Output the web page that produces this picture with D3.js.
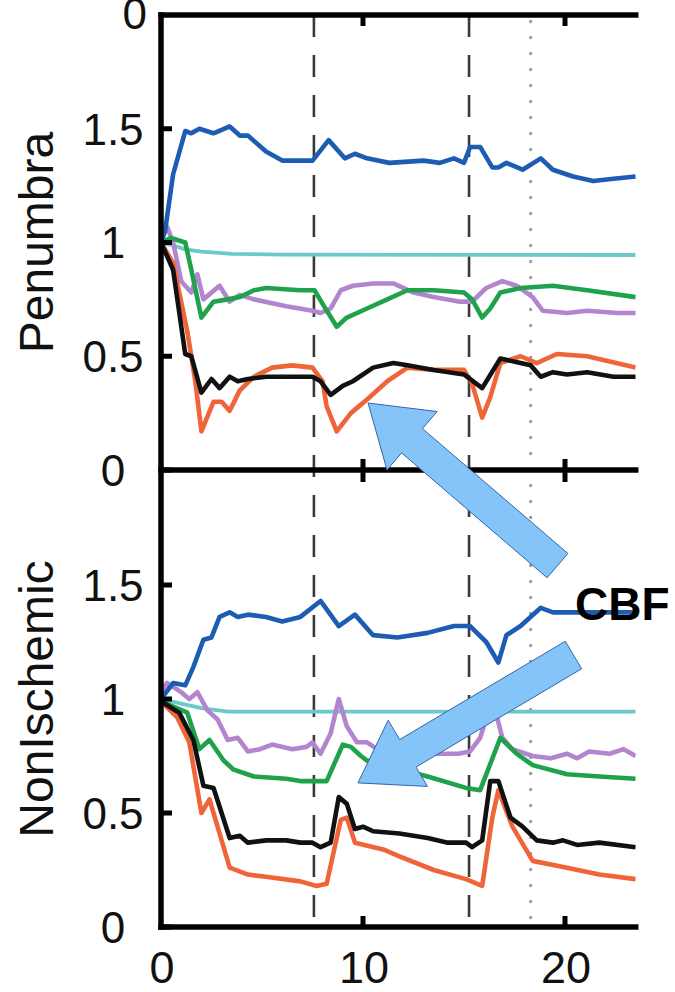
<!DOCTYPE html>
<html>
<head>
<meta charset="utf-8">
<script src="https://cdn.jsdelivr.net/npm/d3@7"></script>
<style>
  html,body{margin:0;padding:0;background:#fff;}
  svg{display:block;}
  text{font-family:"Liberation Sans",Arial,Helvetica,sans-serif;fill:#111;}
</style>
</head>
<body>
<svg id="chart" width="675" height="992"></svg>
<script>
// time axis (min) and tick values
var xTicks=[0,10,20];
var yTicks=[0,0.5,1,1.5];
var yTickLabels=["0","0.5","1","1.5"];
var eventLines=[7.57,15.25];   // dashed
var markerLine=[18.3];          // dotted

// Penumbra panel series: [time, relative value]
var penCyan=[[0,1.0],[0.5,0.99],[1.2,0.97],[2.0,0.96],[3.5,0.95],[6,0.947],[23.5,0.945]];
var penPurple=[[0,1.02],[0.3,1.07],[0.6,1.0],[1.0,0.83],[1.5,0.78],[1.8,0.86],[2.1,0.75],[2.9,0.81],[3.4,0.74],[3.9,0.77],[4.6,0.75],[6.2,0.72],[7.5,0.70],[7.9,0.69],[8.4,0.71],[8.9,0.79],[9.5,0.81],[10.5,0.82],[11.5,0.82],[12.5,0.78],[13.5,0.76],[14.8,0.74],[15.4,0.74],[16.1,0.80],[16.9,0.83],[17.6,0.81],[18.4,0.76],[18.9,0.70],[20.1,0.69],[21.1,0.70],[22.6,0.69],[23.5,0.69]];
var penGreen=[[0,1.0],[0.5,1.02],[1.2,1.0],[1.5,0.88],[2.0,0.67],[2.6,0.74],[3.3,0.75],[3.9,0.76],[4.6,0.79],[5.2,0.80],[6.9,0.79],[7.6,0.79],[8.0,0.73],[8.7,0.63],[9.2,0.67],[10.2,0.71],[11.2,0.75],[12.2,0.79],[13.5,0.79],[15.0,0.78],[15.4,0.75],[15.9,0.67],[16.3,0.71],[16.8,0.78],[17.8,0.80],[19.4,0.81],[21.1,0.79],[23.5,0.76]];
var penOrange=[[0,1.0],[0.6,0.91],[1.3,0.61],[1.7,0.39],[2.0,0.17],[2.6,0.30],[3.0,0.30],[3.4,0.26],[3.9,0.35],[4.6,0.41],[5.5,0.45],[6.5,0.46],[7.5,0.45],[8.0,0.39],[8.2,0.28],[8.7,0.17],[9.4,0.25],[10.2,0.31],[11.2,0.39],[12.2,0.45],[13.5,0.44],[15.0,0.44],[15.4,0.38],[15.9,0.23],[16.3,0.32],[16.8,0.47],[17.8,0.50],[18.6,0.47],[19.6,0.51],[21.1,0.50],[23.5,0.45]];
var penBlack=[[0,1.0],[0.6,0.88],[1.2,0.51],[1.5,0.50],[2.0,0.34],[2.5,0.40],[2.9,0.36],[3.4,0.41],[3.8,0.39],[4.3,0.40],[5.2,0.41],[7.5,0.41],[7.9,0.39],[8.4,0.33],[9.0,0.37],[9.5,0.39],[10.5,0.45],[11.5,0.47],[12.2,0.46],[13.5,0.44],[15.0,0.42],[15.9,0.36],[16.8,0.49],[17.8,0.47],[18.3,0.46],[18.8,0.41],[19.4,0.43],[20.1,0.42],[21.1,0.43],[22.4,0.41],[23.5,0.41]];
var penBlue=[[0,1.0],[0.2,1.05],[0.6,1.3],[1.2,1.49],[1.5,1.48],[1.9,1.50],[2.6,1.48],[3.4,1.51],[3.9,1.47],[4.3,1.47],[5.2,1.40],[6.0,1.36],[6.9,1.36],[7.5,1.36],[8.3,1.45],[9.1,1.37],[9.6,1.39],[10.2,1.37],[11.3,1.35],[13.0,1.36],[13.8,1.35],[14.5,1.37],[15.0,1.35],[15.3,1.42],[15.8,1.42],[16.4,1.33],[16.7,1.33],[17.1,1.35],[17.9,1.32],[18.8,1.37],[19.4,1.32],[20.4,1.29],[21.4,1.27],[22.4,1.28],[23.5,1.29]];

// NonIschemic panel series
var nonCyan=[[0,1.0],[1.0,0.98],[2.0,0.96],[3.3,0.945],[23.5,0.945]];
var nonPurple=[[0,1.03],[0.3,1.07],[1.0,1.03],[1.4,1.0],[1.8,1.03],[2.3,0.95],[2.8,0.91],[3.3,0.82],[3.8,0.83],[4.3,0.77],[4.9,0.78],[5.5,0.80],[6.5,0.78],[7.2,0.79],[7.5,0.81],[7.9,0.76],[8.4,0.85],[8.8,1.0],[9.2,0.88],[9.7,0.81],[10.2,0.81],[10.7,0.78],[12.0,0.77],[13.5,0.76],[14.7,0.76],[15.3,0.77],[15.8,0.83],[16.4,1.0],[16.9,0.83],[17.4,0.78],[18.4,0.75],[19.3,0.74],[20.1,0.76],[20.6,0.74],[21.2,0.77],[22.2,0.76],[22.9,0.78],[23.5,0.75]];
var nonGreen=[[0,0.99],[1.3,0.94],[1.9,0.78],[2.4,0.82],[3.1,0.73],[3.6,0.69],[4.6,0.66],[6.2,0.65],[6.9,0.64],[8.2,0.64],[9.0,0.80],[9.4,0.79],[9.9,0.75],[10.2,0.73],[11.5,0.70],[13.2,0.66],[15.1,0.61],[15.8,0.60],[16.8,0.83],[17.6,0.76],[18.4,0.71],[20.1,0.67],[21.7,0.66],[23.5,0.65]];
var nonOrange=[[0,0.99],[0.8,0.92],[1.4,0.81],[2.0,0.50],[2.4,0.56],[2.8,0.44],[3.4,0.26],[4.3,0.23],[5.2,0.22],[6.9,0.20],[7.7,0.18],[8.2,0.19],[8.9,0.47],[9.2,0.48],[9.6,0.37],[11.0,0.34],[11.8,0.31],[13.5,0.25],[15.1,0.21],[15.9,0.18],[16.4,0.48],[16.7,0.60],[17.4,0.44],[18.4,0.29],[20.1,0.26],[21.7,0.23],[23.5,0.21]];
var nonBlack=[[0,0.99],[0.9,0.94],[1.6,0.82],[2.1,0.62],[2.6,0.61],[3.4,0.39],[3.9,0.40],[4.3,0.37],[5.2,0.38],[6.2,0.38],[6.9,0.37],[7.5,0.37],[7.9,0.35],[8.4,0.37],[8.8,0.57],[9.2,0.54],[9.6,0.43],[10.0,0.44],[10.5,0.42],[11.8,0.41],[13.2,0.39],[14.2,0.37],[15.1,0.37],[15.4,0.35],[15.9,0.38],[16.3,0.64],[16.7,0.64],[17.3,0.48],[17.9,0.44],[18.6,0.38],[19.4,0.37],[19.9,0.38],[20.6,0.36],[21.7,0.37],[23.5,0.35]];
var nonBlue=[[0,1.0],[0.6,1.07],[1.2,1.06],[1.6,1.14],[2.1,1.26],[2.5,1.27],[2.9,1.36],[3.4,1.38],[3.8,1.36],[4.3,1.37],[5.2,1.36],[6.0,1.34],[6.9,1.36],[7.9,1.43],[8.8,1.32],[9.6,1.37],[10.5,1.28],[11.7,1.27],[13.2,1.29],[14.5,1.32],[15.3,1.32],[16.1,1.25],[16.7,1.16],[17.1,1.28],[17.8,1.32],[18.8,1.40],[19.4,1.38],[20.6,1.38],[23.5,1.38]];

var COLORS={cyan:"#6cc8cb",purple:"#b385cf",green:"#1fa24c",orange:"#f0643a",black:"#111111",blue:"#1c5db3"};
var XMAX=23.5;

var svg=d3.select("#chart");
var x=d3.scaleLinear().domain([0,20]).range([161,565]);
var yTop=d3.scaleLinear().domain([0,2]).range([470,15]);
var yBot=d3.scaleLinear().domain([0,2]).range([927,471]);

var panels=[
	{title:"Penumbra",y:yTop,series:[[penCyan,"cyan"],[penPurple,"purple"],[penGreen,"green"],[penOrange,"orange"],[penBlack,"black"],[penBlue,"blue"]]},
	{title:"NonIschemic",y:yBot,series:[[nonCyan,"cyan"],[nonPurple,"purple"],[nonGreen,"green"],[nonOrange,"orange"],[nonBlack,"black"],[nonBlue,"blue"]]}
];

svg.append("defs").append("clipPath").attr("id","plotClip")
	.append("rect")
	.attr("x",x(0)).attr("y",yTop(2))
	.attr("width",x(XMAX)-x(0)).attr("height",yBot(0)-yTop(2));

drawEventLines();
panels.forEach(drawPanel);
drawFrame();
drawAnnotations();

//垂直事件线
function drawEventLines(){
	var g=svg.append("g");
	g.selectAll("line.dash").data(eventLines).enter().append("line")
		.attr("class","dash")
		.attr("x1",function(d){return x(d);}).attr("x2",function(d){return x(d);})
		.attr("y1",yTop(2)).attr("y2",yBot(0))
		.style("stroke","#3a3a3a").style("stroke-width",2.6)
		.style("stroke-dasharray","22,18");
	g.selectAll("line.dot").data(markerLine).enter().append("line")
		.attr("class","dot")
		.attr("x1",function(d){return x(d);}).attr("x2",function(d){return x(d);})
		.attr("y1",yTop(2)+5).attr("y2",yBot(0))
		.style("stroke","#9a9a9a").style("stroke-width",2.8)
		.style("stroke-dasharray","3,13");
}

//曲线与刻度
function drawPanel(p){
	var line=d3.line().x(function(d){return x(d[0]);}).y(function(d){return p.y(d[1]);});
	var g=svg.append("g").attr("clip-path","url(#plotClip)");
	p.series.forEach(function(s){
		g.append("path").datum(s[0])
			.attr("d",line)
			.style("fill","none")
			.style("stroke",COLORS[s[1]])
			.style("stroke-width",s[1]=="cyan"?3.8:4.6)
			.style("stroke-linejoin","round");
	});
	// y tick marks + labels
	svg.append("g").selectAll("line").data(yTicks).enter().append("line")
		.attr("x1",x(0)).attr("x2",x(0)+11)
		.attr("y1",function(d){return p.y(d);}).attr("y2",function(d){return p.y(d);})
		.style("stroke","#000").style("stroke-width",5);
	svg.append("g").selectAll("text").data(yTicks).enter().append("text")
		.text(function(d,i){return yTickLabels[i];})
		.attr("x",113)
		.attr("y",function(d){return p.y(d);})
		.attr("dy","0.36em")
		.attr("text-anchor","middle")
		.style("font-size","44px");
	// y title
	var mid=(p.y.range()[0]+p.y.range()[1])/2;
	svg.append("text")
		.text(p.title)
		.attr("transform","translate(53,"+mid+") rotate(-90)")
		.attr("text-anchor","middle")
		.style("font-size","48px");
	// x ticks, pointing into the panel from both horizontal edges
	[0,2].forEach(function(v){
		var dir=v==0?-1:1;
		svg.append("g").selectAll("line").data(xTicks.slice(1)).enter().append("line")
			.attr("x1",function(d){return x(d);}).attr("x2",function(d){return x(d);})
			.attr("y1",p.y(v)).attr("y2",p.y(v)+dir*11)
			.style("stroke","#000").style("stroke-width",5);
	});
}

//坐标框
function drawFrame(){
	var g=svg.append("g").style("stroke","#000").style("stroke-width",5.5).style("stroke-linecap","square");
	g.append("line").attr("x1",x(0)).attr("x2",x(0)).attr("y1",yTop(2)).attr("y2",yBot(0));
	[yTop(2),yTop(0),yBot(0)].forEach(function(yy){
		g.append("line").attr("x1",x(0)).attr("x2",x(XMAX)).attr("y1",yy).attr("y2",yy);
	});
	// x tick labels
	svg.append("g").selectAll("text").data(xTicks).enter().append("text")
		.text(function(d){return d;})
		.attr("x",function(d){return x(d)+1;})
		.attr("y",983)
		.attr("text-anchor","middle")
		.style("font-size","45px");
	// cropped label of the panel above
	svg.append("text").text("0")
		.attr("x",147).attr("y",yTop(2)-2).attr("dy","0.36em")
		.attr("text-anchor","end")
		.style("font-size","44px");
}

//箭头标注
function arrowPoints(tip,tail,shaftW,headW,headL){
	var dx=tip[0]-tail[0],dy=tip[1]-tail[1];
	var len=Math.sqrt(dx*dx+dy*dy);
	var ux=dx/len,uy=dy/len,nx=-uy,ny=ux;
	var bx=tip[0]-ux*headL,by=tip[1]-uy*headL;
	var pts=[
		[tail[0]+nx*shaftW/2,tail[1]+ny*shaftW/2],
		[bx+nx*shaftW/2,by+ny*shaftW/2],
		[bx+nx*headW/2,by+ny*headW/2],
		tip,
		[bx-nx*headW/2,by-ny*headW/2],
		[bx-nx*shaftW/2,by-ny*shaftW/2],
		[tail[0]-nx*shaftW/2,tail[1]-ny*shaftW/2]
	];
	return pts.map(function(p){return p[0]+","+p[1];}).join(" ");
}

function drawAnnotations(){
	var arrows=[
		{tip:[x(10.25),yTop(0.2945)],tail:[x(19.63),yBot(1.585)]},
		{tip:[x(9.75),yBot(0.632)],tail:[x(20.42),yBot(1.193)]}
	];
	svg.append("g").selectAll("polygon").data(arrows).enter().append("polygon")
		.attr("points",function(a){return arrowPoints(a.tip,a.tail,32,77,58);})
		.style("fill","#84c4f8")
		.style("stroke","#3465a4")
		.style("stroke-width",1);
	svg.append("text").text("CBF")
		.attr("x",x(20.5)).attr("y",yBot(1.346))
		.style("font-size","46px")
		.style("font-weight","bold")
		.style("fill","#000");
}
</script>
</body>
</html>
